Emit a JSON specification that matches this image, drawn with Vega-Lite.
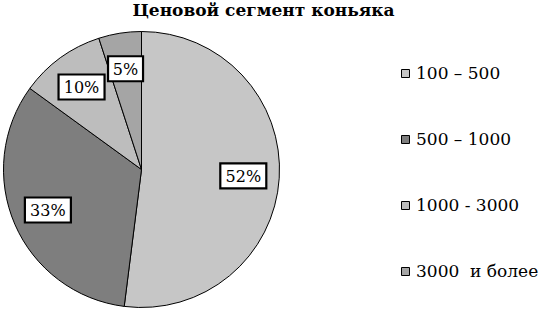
{
  "$schema": "https://vega.github.io/schema/vega-lite/v6.json",
  "width": 277,
  "height": 277,
  "autosize": "none",
  "padding": {"left": 3, "top": 31, "right": 264, "bottom": 5},
  "background": "white",
  "title": {
    "text": "Ценовой сегмент коньяка",
    "font": "DejaVu Serif",
    "fontSize": 17,
    "fontWeight": "bold",
    "color": "#000000",
    "anchor": "middle",
    "frame": "group",
    "dx": 122,
    "offset": 10
  },
  "data": {
    "values": [
      {"idx": 1, "segment": "100 – 500", "pct": 52},
      {"idx": 2, "segment": "500 – 1000", "pct": 33},
      {"idx": 3, "segment": "1000 - 3000", "pct": 10},
      {"idx": 4, "segment": "3000  и более", "pct": 5}
    ]
  },
  "config": {"view": {"stroke": null}},
  "layer": [
    {
      "mark": {"type": "arc", "outerRadius": 138, "stroke": "#000000", "strokeWidth": 1},
      "encoding": {
        "theta": {"field": "pct", "type": "quantitative", "stack": true},
        "order": {"field": "idx", "type": "quantitative", "sort": "ascending"},
        "color": {
          "field": "segment",
          "type": "nominal",
          "sort": null,
          "scale": {
            "domain": ["100 – 500", "500 – 1000", "1000 - 3000", "3000  и более"],
            "range": ["#c6c6c6", "#7e7e7e", "#bdbdbd", "#a5a5a5"]
          },
          "legend": {
            "title": null,
            "orient": "none",
            "legendX": 394,
            "legendY": 34,
            "symbolType": "square",
            "symbolSize": 64,
            "symbolStrokeColor": "#000000",
            "symbolStrokeWidth": 1,
            "labelFont": "DejaVu Serif",
            "labelFontSize": 17,
            "labelColor": "#000000",
            "labelOffset": 2,
            "labelExpr": "replace(datum.label, '  ', '\u00a0 ')",
            "rowPadding": 48,
            "padding": 0
          }
        }
      }
    },
    {
      "transform": [
        {"window": [{"op": "sum", "field": "pct", "as": "cum"}], "sort": [{"field": "idx", "order": "ascending"}], "frame": [null, 0]},
        {"calculate": "(datum.cum - datum.pct / 2) / 100 * 2 * PI", "as": "mid"},
        {"calculate": "sin(datum.mid) * 102", "as": "lx"},
        {"calculate": "cos(datum.mid) * 102", "as": "ly"},
        {"calculate": "datum.pct + '%'", "as": "label"}
      ],
      "encoding": {
        "x": {"field": "lx", "type": "quantitative", "scale": {"domain": [-138.5, 138.5]}, "axis": null},
        "y": {"field": "ly", "type": "quantitative", "scale": {"domain": [-138.5, 138.5]}, "axis": null}
      },
      "layer": [
        {
          "mark": {"type": "point", "filled": true, "fill": "#ffffff", "stroke": "#000000", "strokeWidth": 2.2, "opacity": 1, "size": 625},
          "encoding": {
            "shape": {
              "condition": {"test": "datum.pct < 10", "value": "M-1.4,-1H1.4V1H-1.4Z"},
              "value": "M-1.84,-1H1.84V1H-1.84Z"
            }
          }
        },
        {
          "mark": {"type": "text", "font": "DejaVu Serif", "fontSize": 16, "color": "#000000", "baseline": "middle", "align": "center", "dy": 1},
          "encoding": {"text": {"field": "label", "type": "nominal"}}
        }
      ]
    }
  ]
}
